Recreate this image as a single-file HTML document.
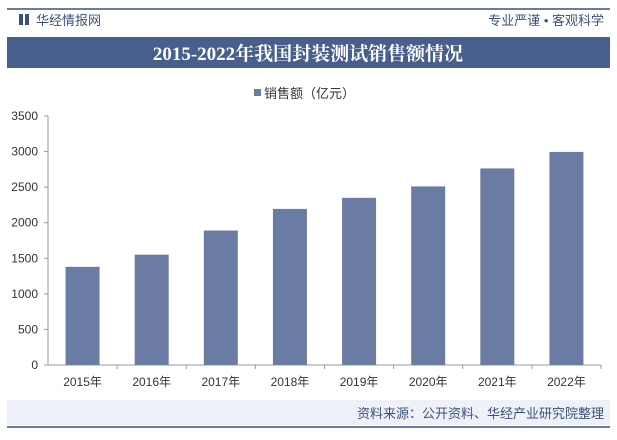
<!DOCTYPE html>
<html><head><meta charset="utf-8"><style>
body{margin:0;width:617px;height:435px;background:#fff;font-family:"Liberation Sans","Noto Sans CJK SC",sans-serif;overflow:hidden}
</style></head><body>
<svg width="617" height="435">
<line x1="7" y1="9" x2="610" y2="9" stroke="#3d5178" stroke-width="1.5"/>
<g><rect x="19" y="14" width="4" height="11" fill="#3d5178"/><rect x="25" y="14" width="4" height="11" fill="#3d5178"/></g>
<text x="36" y="25" font-size="13" fill="#3d5178">华经情报网</text>
<text x="604" y="25" font-size="13" fill="#3d5178" text-anchor="end">专业严谨 • 客观科学</text>
<rect x="7" y="37" width="603" height="31" fill="#485e8c"/>
<text x="308" y="60" font-size="19" font-weight="bold" fill="#fff" text-anchor="middle" font-family="Liberation Serif,Noto Serif CJK SC,serif">2015-2022年我国封装测试销售额情况</text>
<rect x="254" y="89" width="7" height="7" fill="#6a7ca3"/>
<text x="264" y="98" font-size="13" fill="#333">销售额（亿元）</text>
<g id="axes"></g><g id="bars"></g>
<rect x="7" y="400" width="603" height="25" fill="#eef2f8"/>
<text x="604" y="418" font-size="13" fill="#3d5178" text-anchor="end">资料来源：公开资料、华经产业研究院整理</text>
<line x1="7" y1="427" x2="610" y2="427" stroke="#3d5178" stroke-width="1.5"/>
</svg>
<script>
const categories=["2015年","2016年","2017年","2018年","2019年","2020年","2021年","2022年"];
const values=[1380,1551,1890,2194,2350,2510,2763,2995];
const yTicks=[0,500,1000,1500,2000,2500,3000,3500];
const NS="http://www.w3.org/2000/svg";
const x0=48,x1=601,y0=365,y1=116,yMax=3500;
const y=v=>y0-(v/yMax)*(y0-y1);
const bw=(x1-x0)/categories.length;
const ax=document.getElementById('axes'),bg=document.getElementById('bars');
function mk(t,a,p){const e=document.createElementNS(NS,t);for(const k in a)e.setAttribute(k,a[k]);p.appendChild(e);return e;}
yTicks.forEach(v=>{const t=mk('text',{x:38,y:y(v)+4,'font-size':12,fill:'#333','text-anchor':'end'},ax);t.textContent=v;


mk('line',{x1:x0-4,x2:x0,y1:y(v),y2:y(v),stroke:'#999'},ax);});
const yl=mk('line',{x1:x0,x2:x0,y1:y1,y2:y0,stroke:'#999'},ax);


const xl=mk('line',{x1:x0,x2:x1,y1:y0,y2:y0,stroke:'#999'},ax);


categories.forEach((c,i)=>{const cx=x0+bw*(i+0.5);
mk('line',{x1:x0+bw*(i+1),x2:x0+bw*(i+1),y1:y0,y2:y0+4,stroke:'#999'},ax);
const r=mk('rect',{x:cx-17,y:y(values[i]),width:34,height:y0-y(values[i]),fill:'#6a7ca3'},bg);


const t=mk('text',{x:cx,y:y0+21,'font-size':12,fill:'#333','text-anchor':'middle'},ax);t.textContent=c;

});
</script>
</body></html>
